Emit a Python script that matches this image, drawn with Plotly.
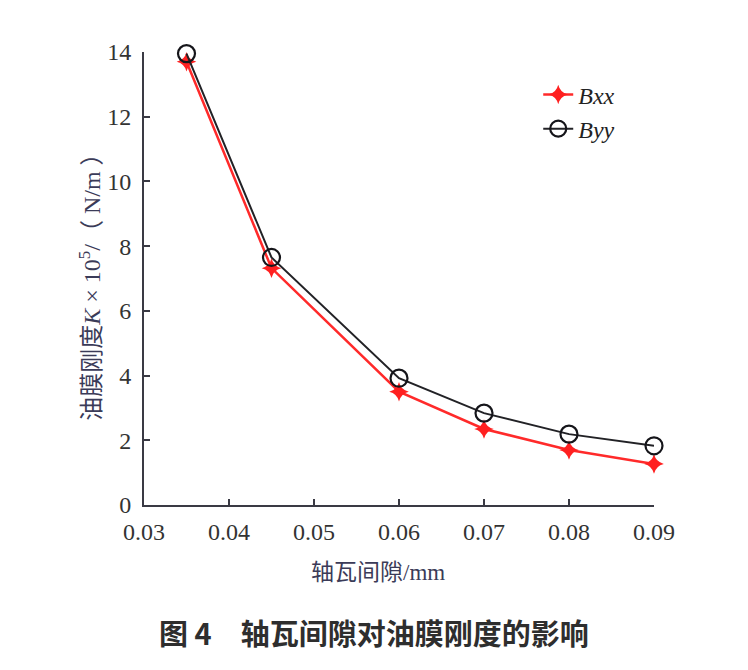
import plotly.graph_objects as go

gap = [0.035, 0.045, 0.06, 0.07, 0.08, 0.09]
bxx = [13.7, 7.32, 3.5, 2.35, 1.7, 1.27]
byy = [13.95, 7.65, 3.92, 2.84, 2.19, 1.83]
x_ticks = [0.03, 0.04, 0.05, 0.06, 0.07, 0.08, 0.09]
x_tick_text = ["0.03", "0.04", "0.05", "0.06", "0.07", "0.08", "0.09"]
y_ticks = [0, 2, 4, 6, 8, 10, 12, 14]

serif = "Liberation Serif, Times New Roman, serif"
cjk_serif = "Liberation Serif, Noto Sans CJK SC, serif"
axis_col = "#3a3a44"

fig = go.Figure()
fig.add_trace(go.Scatter(
    x=gap, y=bxx, name="Bxx", mode="lines+markers", cliponaxis=False,
    line=dict(color="#ff2a2a", width=2.5),
    marker=dict(symbol="star-diamond", size=14, color="#ff2020",
                line=dict(width=0)),
))
fig.add_trace(go.Scatter(
    x=gap, y=byy, name="Byy", mode="lines+markers", cliponaxis=False,
    line=dict(color="#222226", width=2),
    marker=dict(symbol="circle-open", size=17, color="#15151a",
                line=dict(width=2.2)),
))

fig.update_layout(
    width=740, height=662, autosize=False,
    margin=dict(l=136, r=94, t=44, b=165),
    plot_bgcolor="white", paper_bgcolor="white",
    showlegend=True,
    legend=dict(x=0.773, y=0.955, xanchor="left", yanchor="top",
                font=dict(family=serif, size=24, color="#222", style="italic"),
                bgcolor="rgba(0,0,0,0)"),
    xaxis=dict(range=[0.03, 0.09], tickvals=x_ticks, ticktext=x_tick_text,
               showgrid=False, zeroline=False, showline=True,
               linecolor=axis_col, linewidth=2, ticks="inside", ticklen=6,
               tickcolor=axis_col, tickwidth=2, ticklabelstandoff=4,
               tickfont=dict(family=serif, size=24, color="#333")),
    yaxis=dict(range=[0, 14], tickvals=y_ticks,
               showgrid=False, zeroline=False, showline=True,
               linecolor=axis_col, linewidth=2, ticks="inside", ticklen=6,
               tickcolor=axis_col, tickwidth=2, ticklabelstandoff=6,
               tickfont=dict(family=serif, size=24, color="#333")),
)

fig.add_annotation(
    text="油膜刚度<i>K</i> × 10<sup>5</sup>/（ N/m ）",
    xref="paper", yref="paper", x=-0.106, y=0.495,
    xanchor="center", yanchor="middle", textangle=-90, showarrow=False,
    font=dict(family=cjk_serif, size=24, color="#3b3b58"),
)
fig.add_annotation(
    text="轴瓦间隙/mm",
    xref="paper", yref="paper", x=0.459, y=-0.148,
    xanchor="center", yanchor="middle", showarrow=False,
    font=dict(family=cjk_serif, size=23, color="#3b3b58"),
)
fig.add_annotation(
    text="<b>图 4　轴瓦间隙对油膜刚度的影响</b>",
    xref="paper", yref="paper", x=0.45, y=-0.280,
    xanchor="center", yanchor="middle", showarrow=False,
    font=dict(family="Noto Sans CJK SC", size=29, color="#2e2e2e"),
)

fig.write_html("out.html")
